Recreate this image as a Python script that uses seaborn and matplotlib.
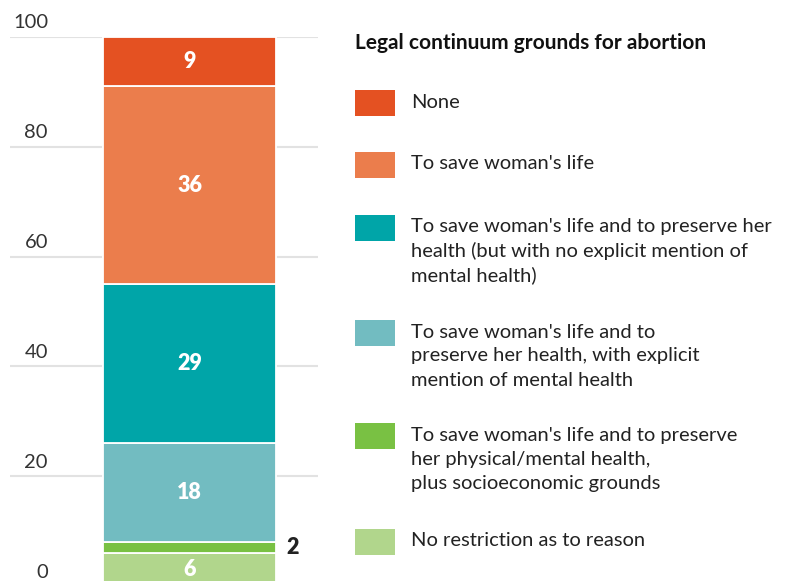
import matplotlib
matplotlib.use("Agg")
import matplotlib.pyplot as plt
import matplotlib.transforms as mtransforms
from matplotlib.patches import Rectangle
import seaborn as sns

# data, bottom segment first
categories = [
    "No restriction as to reason",
    "To save woman's life and to preserve\nher physical/mental health,\nplus socioeconomic grounds",
    "To save woman's life and to\npreserve her health, with explicit\nmention of mental health",
    "To save woman's life and to preserve her\nhealth (but with no explicit mention of\nmental health)",
    "To save woman's life",
    "None",
]
values = [6, 2, 18, 29, 36, 9]
colors = ["#B1D68C", "#79C143", "#72BCC1", "#00A5A8", "#EB7D4C", "#E45122"]
yticks = [0, 20, 40, 60, 80, 100]
legend_title = "Legal continuum grounds for abortion"

sns.set_theme(style="white")
plt.rcParams["font.family"] = ["Lato", "DejaVu Sans"]

W, H = 799, 581
fig = plt.figure(figsize=(W / 100, H / 100), dpi=100)

# axes from x=10..318 px, y 0 at 586 px, 100 at 37 px
ax = fig.add_axes([10 / W, 1 - 586 / H, 308 / W, 549 / H])

bottom = 0
for v, c in zip(values, colors):
    sns.barplot(x=[0], y=[v], bottom=bottom, color=c, width=1, edgecolor="white",
                linewidth=1.3, saturation=1, native_scale=True, ax=ax, zorder=3)
    if v >= 5:
        ax.text(0, bottom + v / 2, str(v), ha="center", va="center", color="white",
                fontsize=15.5, fontweight="heavy", zorder=4)
    else:
        ax.text(0.56, bottom + v / 2, str(v), ha="left", va="center", color="#222222",
                fontsize=15.5, fontweight="heavy", zorder=4)
    bottom += v

ax.set_xlim(-1.0376, 0.7428)
ax.set_ylim(0, 100)
ax.set_yticks(yticks)
ax.set_yticklabels([])
ax.set_xticks([])
ax.set_xlabel("")
ax.set_ylabel("")
ax.tick_params(length=0)
ax.grid(axis="y", color="#E2E2E2", linewidth=1.5)
ax.set_axisbelow(True)
for s in ax.spines.values():
    s.set_visible(False)

# tick labels sit above their gridlines
off = mtransforms.ScaledTranslation(0, 0.14, fig.dpi_scale_trans)
trans = mtransforms.blended_transform_factory(ax.transAxes, ax.transData) + off
for t in yticks:
    ax.text(38 / 308, t, str(t), transform=trans, ha="right", va="center",
            fontsize=14.5, color="#333333", clip_on=False)

# legend on the right
fig.text(355 / W, 1 - 43 / H, legend_title, ha="left", va="center",
         fontsize=15, fontweight="bold", color="#111111")
sq_tops = [90, 152, 215, 320, 423, 529]
for lab, c, top in zip(categories[::-1], colors[::-1], sq_tops):
    fig.add_artist(Rectangle((355 / W, 1 - (top + 26) / H), 40 / W, 26 / H,
                             transform=fig.transFigure, color=c, lw=0))
    for i, line in enumerate(lab.split("\n")):
        fig.text(411 / W, 1 - (top + 12 + i * 24) / H, line, ha="left", va="center",
                 fontsize=14.5, color="#222222")

fig.savefig("out.png", dpi=100)
